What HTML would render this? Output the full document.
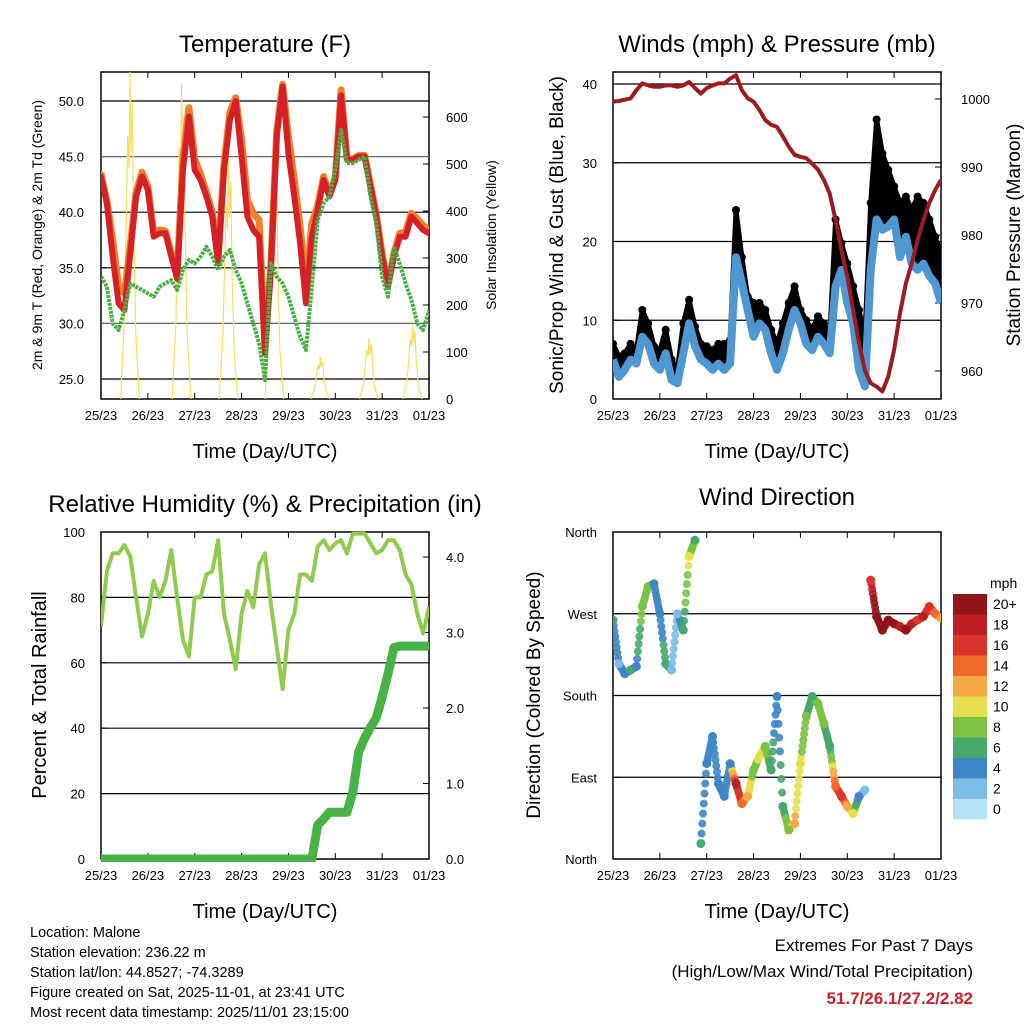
<!DOCTYPE html>
<html><head><meta charset="utf-8">
<style>
body{margin:0;background:#fff;}
svg{display:block;font-family:"Liberation Sans",Arial,sans-serif;}
</style></head>
<body>
<svg id="chart" width="1024" height="1024" viewBox="0 0 1024 1024" xmlns="http://www.w3.org/2000/svg">
<rect width="1024" height="1024" fill="#fff"/>
<text x="265" y="52" font-size="24" text-anchor="middle">Temperature (F)</text>
<text x="777" y="52" font-size="24" text-anchor="middle">Winds (mph) &amp; Pressure (mb)</text>
<text x="265" y="512" font-size="24" text-anchor="middle">Relative Humidity (%) &amp; Precipitation (in)</text>
<text x="777" y="505" font-size="24" text-anchor="middle">Wind Direction</text>
<text x="265" y="458" font-size="20" text-anchor="middle">Time (Day/UTC)</text>
<text x="777" y="458" font-size="20" text-anchor="middle">Time (Day/UTC)</text>
<text x="265" y="918" font-size="20" text-anchor="middle">Time (Day/UTC)</text>
<text x="777" y="918" font-size="20" text-anchor="middle">Time (Day/UTC)</text>
<text transform="translate(42,235) rotate(-90)" font-size="14" text-anchor="middle">2m &amp; 9m T (Red, Orange) &amp; 2m Td (Green)</text>
<text transform="translate(496,235) rotate(-90)" font-size="14" text-anchor="middle">Solar Insolation (Yellow)</text>
<text transform="translate(563,235) rotate(-90)" font-size="19" text-anchor="middle">Sonic/Prop Wind &amp; Gust (Blue, Black)</text>
<text transform="translate(1020,235) rotate(-90)" font-size="19" text-anchor="middle">Station Pressure (Maroon)</text>
<text transform="translate(46,695) rotate(-90)" font-size="20" text-anchor="middle">Percent &amp; Total Rainfall</text>
<text transform="translate(540,695) rotate(-90)" font-size="19" text-anchor="middle">Direction (Colored By Speed)</text>
<g font-size="14.5">
<text x="30" y="937">Location: Malone</text>
<text x="30" y="957">Station elevation: 236.22 m</text>
<text x="30" y="977">Station lat/lon: 44.8527; -74.3289</text>
<text x="30" y="997">Figure created on Sat, 2025-11-01, at 23:41 UTC</text>
<text x="30" y="1017">Most recent data timestamp: 2025/11/01 23:15:00</text>
</g>
<g text-anchor="end">
<text x="973" y="951" font-size="17">Extremes For Past 7 Days</text>
<text x="973" y="977" font-size="17">(High/Low/Max Wind/Total Precipitation)</text>
<text x="973" y="1004" font-size="17" font-weight="bold" fill="#cc2229">51.7/26.1/27.2/2.82</text>
</g>
</svg>
<script>
var dayLabels=["25/23","26/23","27/23","28/23","29/23","30/23","31/23","01/23"];
var tempRed=[43.2,40.8,36,31.8,31.2,36.3,41.4,43.2,42,37.8,38.1,38.1,36,34,43.8,48.6,43.8,42.9,41.4,39.6,35.4,43.8,48.3,50,45,39.6,38.4,37.8,27.3,34.8,46.8,51.3,45.3,41.4,37.2,31.8,37.8,40.2,42.9,41.4,42.9,50.5,44.7,44.7,45,45,42.3,39.6,36,33.3,36,37.8,37.8,39.6,39,38.4,38.1];
var tempOrange=[43.4,41,37.5,33.3,32.7,37,41.8,43.6,42.3,38.2,38.4,38.3,36.3,34.5,44.8,49.4,44.8,43.4,41.8,40,35.8,44.3,49,50.3,46.5,41.1,39.9,39.3,27.8,35.3,47.2,51.5,46.8,42.9,38.7,33.3,39,40.6,43.2,41.6,43.1,51,44.8,44.8,45.1,45.1,42.5,39.8,36.2,33.5,36.3,38.1,38.2,39.9,39.4,38.8,38.4];
var dewGreen=[34.2,33.3,30,29.4,31.2,33.6,33.3,33,32.7,32.4,33.3,33.6,33.9,33,34.8,35.7,35.4,36,36.9,36,34.8,36,36.6,34.8,33.6,31.8,30,28.2,24.9,35.4,34.2,33.6,32.4,30.6,28.8,27.6,33.3,39.3,40.8,41.4,43.8,47.4,44.4,44.4,44.7,45,41.4,39,34.2,32.4,36.9,35.4,33.6,32.1,30,29.4,31.2];
var solarDays=[0.62,1.72,2.72,3.7,4.68,5.72,6.65];
var solarPeaks=[700,670,515,500,90,130,160];
var tempTicks=[25,30,35,40,45,50];
var solarTicks=[0,100,200,300,400,500,600];
var pressure=[999.6,999.7,999.9,1000.1,1001.3,1002.3,1002,1001.8,1001.8,1002,1002,1001.8,1002,1002.5,1001.6,1000.8,1001.6,1002,1002.3,1002.3,1003,1003.5,1001.3,1000.1,999.6,998.4,996.9,996.2,995.9,994.5,993,991.8,991.5,991.3,990.5,989.6,988.1,986.1,982.2,977.8,973.9,969,964.1,960.1,958.2,957.7,957,959.2,963.1,968.5,972.9,975.8,979.3,982.2,984.7,986.6,988.1];
var windSpeed=[5,2.8,3.7,5,4.5,7.9,7,4.5,3.7,5.8,2.4,2,5.8,9.6,6.7,5,4.5,3.7,4.5,3.7,4.5,18,14.7,11.3,7.9,9.6,8.8,5.8,3.7,5.8,8.8,11.3,9.6,7,6.2,7.9,7,5.8,14.3,16.4,12.2,9.6,3.7,1.6,16.4,22.8,21.5,21.9,22.8,18,20.6,17.2,16.4,17.2,15.6,14.7,12.2];
var windGust=[7,5.4,5.8,7,6.2,11.3,9.6,6.7,6.2,8.8,5,3.7,9.6,12.6,9.2,7,6.7,6.2,7,7,7.5,24,18,13,12.2,12.2,11.3,8.8,7,9.6,12.2,14.3,11.3,10,8.8,10.5,9.6,7.9,22.8,19.8,17.2,14.3,11.3,7.9,24.9,35.5,31.2,29.1,27,24.9,25.7,24,25.7,24.9,22.8,20.6,18.5];
var windTicks=[0,10,20,30,40];
var pressTicks=[960,970,980,990,1000];
var rhValues=[71,88,93.5,93.5,96,92.5,80,68,75,85,80,85,94.5,80,67,62,80,80,87,88,97.5,75,67,58,75,82,77,90,93.5,78,65,52,70,75,87,87,85,95.5,97.5,94.5,96.5,97.5,93.5,99.5,99.5,99.5,96.5,93.5,94.5,97.5,97.5,94.5,87,84,75,69,77];
var precip=[0,0,0,0,0,0,0,0,0,0,0,0,0,0,0,0,0,0,0,0,0,0,0,0,0,0,0,0,0,0,0,0,0,0,0,0,0,0.45,0.53,0.62,0.62,0.62,0.62,0.89,1.42,1.6,1.74,1.87,2.14,2.45,2.8,2.82,2.82,2.82,2.82,2.82,2.82];
var rhTicks=[0,20,40,60,80,100];
var precipTicks=[0,1,2,3,4];
var direction=[263,215,204,208,212,278,300,303,270,215,208,270,252,333,351,17,105,135,83,69,105,83,61,69,98,113,124,98,179,58,32,39,105,157,179,171,149,124,80,69,58,50,69,76,307,267,252,263,259,256,252,259,263,267,278,270,265];
var dirTicks=[0,90,180,270,360];
var dirLabels=["North","East","South","West","North"];
var cbLabels=["0","2","4","6","8","10","12","14","16","18","20+"];
var cbColors=["#b5e2f7","#7dbbe8","#3f86c7","#46a86b","#7cc243","#e5df50","#f5a843","#ee6a2b","#d9352c","#bc1f24","#921318"];

var NS="http://www.w3.org/2000/svg";
var svg=document.getElementById("chart");
function mk(tag,attrs,parent){var e=document.createElementNS(NS,tag);for(var k in attrs)e.setAttribute(k,attrs[k]);(parent||svg).appendChild(e);return e;}
function txt(x,y,s,size,anchor,parent){var t=mk("text",{x:x,y:y,"font-size":size,"text-anchor":anchor},parent);t.textContent=s;return t;}

var panels={
 temp:{x0:101,x1:429,y0:72,y1:399},
 wind:{x0:613,x1:941,y0:72,y1:399},
 rh:{x0:101,x1:429,y0:532,y1:859},
 dir:{x0:613,x1:941,y0:532,y1:859}
};
function xAt(p,i){return p.x0+(i/8)*(p.x1-p.x0)/7;}
function xDay(p,d){return p.x0+d*(p.x1-p.x0)/7;}
function lin(v0,p0,v1,p1){return function(v){return p0+(v-v0)*(p1-p0)/(v1-v0);};}
var yTemp=lin(25,379,50,101), ySolar=lin(0,399,600,117);
var yWind=lin(0,399,40,84), yPress=lin(960,371,1000,99);
var yRH=lin(0,859,100,532), yPrec=lin(0,859,4,557);
var yDir=lin(0,859,360,532);

function frame(p,name){
  var g=mk("g",{});
  
  
  for(var d=0;d<dayLabels.length;d++){
    var x=xDay(p,d);
    mk("line",{x1:x,x2:x,y1:p.y1,y2:p.y1-6,stroke:"#000","stroke-width":1},g);
    mk("line",{x1:x,x2:x,y1:p.y0,y2:p.y0+6,stroke:"#000","stroke-width":1},g);
    var t=txt(x,p.y1+21,dayLabels[d],13,"middle",g);
    
    
  }
  return g;
}
function grid(p,y,g,col){mk("line",{x1:p.x0,x2:p.x1,y1:y,y2:y,stroke:col||"#000","stroke-width":1.2},g);}
function border(p,g){mk("rect",{x:p.x0,y:p.y0,width:p.x1-p.x0,height:p.y1-p.y0,fill:"none",stroke:"#000","stroke-width":1.5},g);}
function pathOf(arr,p,yf){var s="";for(var i=0;i<arr.length;i++){s+=(i?"L":"M")+xAt(p,i).toFixed(1)+","+yf(arr[i]).toFixed(1);}return s;}

// ---------- Temperature panel
(function(){
  var p=panels.temp, g=frame(p,"temperature");
  var gr=mk("g",{});
  
  
  tempTicks.forEach(function(v){grid(p,yTemp(v),gr,(v==45||v==30)?"#666":"#000");
    var t=txt(84,yTemp(v)+5,v.toFixed(1),13,"end",g);
    
    
    mk("line",{x1:p.x0,x2:p.x0+6,y1:yTemp(v),y2:yTemp(v),stroke:"#000"},g);});
  solarTicks.forEach(function(v){
    var t=txt(446,ySolar(v)+5,String(v),13,"start",g);
    
    
    mk("line",{x1:p.x1,x2:p.x1-6,y1:ySolar(v),y2:ySolar(v),stroke:"#000"},g);});
  var clip=mk("clipPath",{id:"cTemp"});mk("rect",{x:p.x0,y:p.y0,width:p.x1-p.x0,height:p.y1-p.y0},clip);
  var sg=mk("g",{"clip-path":"url(#cTemp)"});
  
  
  solarDays.forEach(function(d,k){
    var pk=solarPeaks[k];
    var offs=[-0.2,-0.12,-0.08,-0.05,-0.02,0,0.02,0.05,0.08,0.12,0.2];
    var fr=[0,0.25,0.55,0.8,0.7,1,0.75,0.9,0.5,0.2,0];
    var s="";
    offs.forEach(function(o,j){s+=(j?"L":"M")+xDay(p,d+o).toFixed(1)+","+ySolar(pk*fr[j]).toFixed(1);});
    var pth=mk("path",{d:s,fill:"none",stroke:"#f7df5a","stroke-width":1.2},sg);
    
    
  });
  var o=mk("path",{d:pathOf(tempOrange,p,yTemp),fill:"none",stroke:"#f07f2c","stroke-width":7,"stroke-linejoin":"round","stroke-linecap":"round","clip-path":"url(#cTemp)"});
  
  
  var r=mk("path",{d:pathOf(tempRed,p,yTemp),fill:"none",stroke:"#d42027","stroke-width":6,"stroke-linejoin":"round","stroke-linecap":"round","clip-path":"url(#cTemp)"});
  
  
  var gl=mk("path",{d:pathOf(dewGreen,p,yTemp),fill:"none",stroke:"#49b046","stroke-width":4,"stroke-linejoin":"round","stroke-dasharray":"3 1","clip-path":"url(#cTemp)"});
  
  
  border(p,g);
})();

// ---------- Wind panel
(function(){
  var p=panels.wind, g=frame(p,"winds");
  pressTicks.forEach(function(v){
    var t=txt(961,yPress(v)+5,String(v),13,"start",g);
    
    
    mk("line",{x1:p.x1,x2:p.x1-6,y1:yPress(v),y2:yPress(v),stroke:"#000"},g);});
  windTicks.forEach(function(v){if(v>0)grid(p,yWind(v),g);
    var t=txt(597,yWind(v)+5,String(v),13,"end",g);
    
    
    mk("line",{x1:p.x0,x2:p.x0+6,y1:yWind(v),y2:yWind(v),stroke:"#000"},g);});
  var clip=mk("clipPath",{id:"cWind"});mk("rect",{x:p.x0,y:p.y0,width:p.x1-p.x0,height:p.y1-p.y0},clip);
  var gustG=mk("g",{"clip-path":"url(#cWind)"});
  
  
  var band="";
  for(var i=0;i<windGust.length;i++)band+=(i?"L":"M")+xAt(p,i).toFixed(1)+","+yWind(windGust[i]).toFixed(1);
  for(var j=windSpeed.length-1;j>=0;j--)band+="L"+xAt(p,j).toFixed(1)+","+yWind(windSpeed[j]).toFixed(1);
  mk("path",{d:band+"Z",fill:"#000"},gustG);
  mk("path",{d:pathOf(windGust,p,yWind),fill:"none",stroke:"#000","stroke-width":5,"stroke-linejoin":"round"},gustG);
  windGust.forEach(function(v,i){
    var c=mk("circle",{cx:xAt(p,i),cy:yWind(v),r:4,fill:"#000"},gustG);
    
    
  });
  var b=mk("path",{d:pathOf(windSpeed,p,yWind),fill:"none",stroke:"#4f97d1","stroke-width":8,"stroke-linejoin":"round","clip-path":"url(#cWind)"});
  
  
  var pr=mk("path",{d:pathOf(pressure,p,yPress),fill:"none",stroke:"#9b1b1f","stroke-width":4,"stroke-linejoin":"round","clip-path":"url(#cWind)"});
  
  
  border(p,g);
})();

// ---------- RH panel
(function(){
  var p=panels.rh, g=frame(p,"humidity");
  rhTicks.forEach(function(v){if(v>0&&v<100)grid(p,yRH(v),g);
    var t=txt(85,yRH(v)+5,String(v),13,"end",g);
    
    
    mk("line",{x1:p.x0,x2:p.x0+6,y1:yRH(v),y2:yRH(v),stroke:"#000"},g);});
  precipTicks.forEach(function(v){
    var t=txt(446,yPrec(v)+5,v.toFixed(1),13,"start",g);
    
    
    mk("line",{x1:p.x1,x2:p.x1-6,y1:yPrec(v),y2:yPrec(v),stroke:"#000"},g);});
  var clip=mk("clipPath",{id:"cRH"});mk("rect",{x:p.x0,y:p.y0-3,width:p.x1-p.x0,height:p.y1-p.y0+6},clip);
  var rh=mk("path",{d:pathOf(rhValues,p,yRH),fill:"none",stroke:"#8fcb4f","stroke-width":4,"stroke-linejoin":"round","clip-path":"url(#cRH)"});
  
  
  var pc=mk("path",{d:pathOf(precip,p,yPrec),fill:"none",stroke:"#47b346","stroke-width":9,"stroke-linejoin":"round","clip-path":"url(#cRH)"});
  
  
  border(p,g);
})();

// ---------- Direction panel
function colorFor(v){var k=Math.min(10,Math.max(0,Math.round(v/2)));return cbColors[k];}
(function(){
  var p=panels.dir, g=frame(p,"direction");
  dirTicks.forEach(function(v,k){if(k>0&&k<4)grid(p,yDir(v),g);
    var t=txt(597,yDir(v)+5,dirLabels[k],13,"end",g);
    
    
    mk("line",{x1:p.x0,x2:p.x0+6,y1:yDir(v),y2:yDir(v),stroke:"#000"},g);});
  var clip=mk("clipPath",{id:"cDir"});mk("rect",{x:p.x0,y:p.y0,width:p.x1-p.x0,height:p.y1-p.y0},clip);
  var dg=mk("g",{"clip-path":"url(#cDir)"});
  
  
  for(var i=0;i<direction.length;i++){
    var d0=direction[i], x0=xAt(p,i), col=colorFor(windSpeed[i]);
    if(i<direction.length-1){
      var d1=direction[i+1];
      if(Math.abs(d1-d0)<150){
        for(var s=1;s<8;s++){
          var f=s/8, x=x0+f*(xAt(p,i+1)-x0), y=yDir(d0+f*(d1-d0));
          var c2=mk("circle",{cx:x,cy:y,r:4,fill:colorFor(windSpeed[i]+f*(windSpeed[i+1]-windSpeed[i])),opacity:0.9},dg);
          
          
        }
      }
    }
    var c=mk("circle",{cx:x0,cy:yDir(d0),r:4.5,fill:col},dg);
    
    
  }
  border(p,g);
  var cb=mk("g",{});
  
  
  txt(990,588,"mph",14,"start",cb);
  var top=594,h=20.5;
  for(var k=0;k<cbColors.length;k++){
    var yy=top+(cbColors.length-1-k)*h;
    var rc=mk("rect",{x:953,y:yy,width:34,height:h,fill:cbColors[k]},cb);
    
    
    var lt=txt(993,yy+15,cbLabels[k],14,"start",cb);
    
    
  }
})();
</script>
</body></html>
